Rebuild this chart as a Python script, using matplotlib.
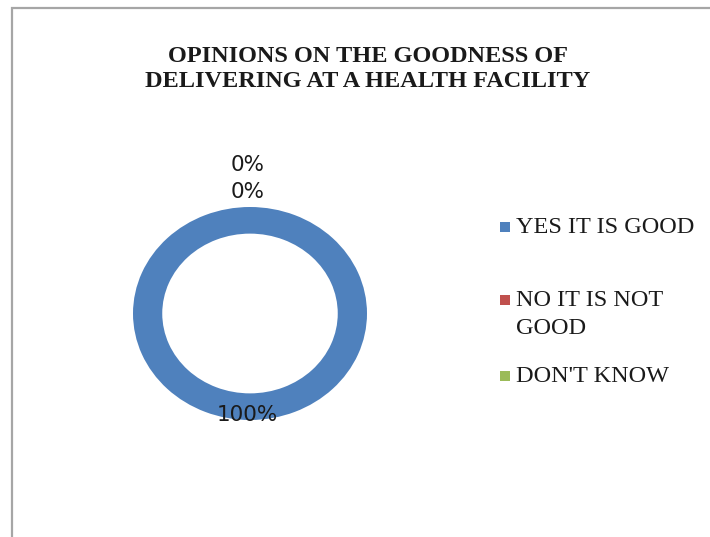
import matplotlib
matplotlib.use("Agg")
import matplotlib.pyplot as plt
import numpy as np
from matplotlib.patches import Rectangle

# data
categories = ["YES IT IS GOOD", "NO IT IS NOT\nGOOD", "DON'T KNOW"]
values = [100, 0, 0]
colors = ["#4F81BD", "#C0504D", "#9BBB59"]
title = "OPINIONS ON THE GOODNESS OF\nDELIVERING AT A HEALTH FACILITY"

W, H = 710, 537
fig = plt.figure(figsize=(W / 100, H / 100), dpi=100)

def fx(px):
    return px / W

def fy(py):
    return 1 - py / H

# chart area border (light grey frame that runs off the right/bottom)
fig.patches.append(Rectangle((fx(12), -0.05), 1.1, fy(8) + 0.05,
                             transform=fig.transFigure, fill=False,
                             edgecolor="#a6a6a6", linewidth=1.6))

fig.text(fx(368), fy(69), title, ha="center", va="center",
         fontsize=17.5, fontweight="bold", family="Liberation Serif",
         color="#1a1a1a", linespacing=1.22)

# donut, slightly stretched like the original
ax = fig.add_axes([fx(133), fy(420), fx(234), 213 / H])
wedges, _ = ax.pie(values, colors=colors, startangle=90, counterclock=False,
                   radius=1.0, wedgeprops=dict(width=0.25, linewidth=0))
ax.set_aspect("auto")
ax.set_xlim(-1, 1)
ax.set_ylim(-1, 1)
ax.axis("off")

# data labels
total = float(sum(values))
stack = 0
for w, v in zip(wedges, values):
    ang = np.deg2rad((w.theta1 + w.theta2) / 2)
    if v > 0:
        r = 0.95
    else:
        r = 1.14 + 0.255 * stack
        stack += 1
    ax.text(r * np.cos(ang) - 0.02, r * np.sin(ang), "%d%%" % round(100 * v / total),
            ha="center", va="center", fontsize=15.5, family="DejaVu Sans",
            color="#1a1a1a", clip_on=False)

# legend, drawn by hand so the two-line entry lines up like the original
entry_y = [227, 300, 376]
for lab, col, y in zip(categories, colors, entry_y):
    fig.patches.append(Rectangle((fx(500), fy(y + 5)), fx(10), 10 / H,
                                 transform=fig.transFigure, facecolor=col,
                                 edgecolor="none"))
    for k, line in enumerate(lab.split("\n")):
        fig.text(fx(516), fy(y + 29 * k), line, ha="left", va="center",
                 fontsize=17.5, family="Liberation Serif", color="#1a1a1a")

fig.savefig("out.png", dpi=100)
